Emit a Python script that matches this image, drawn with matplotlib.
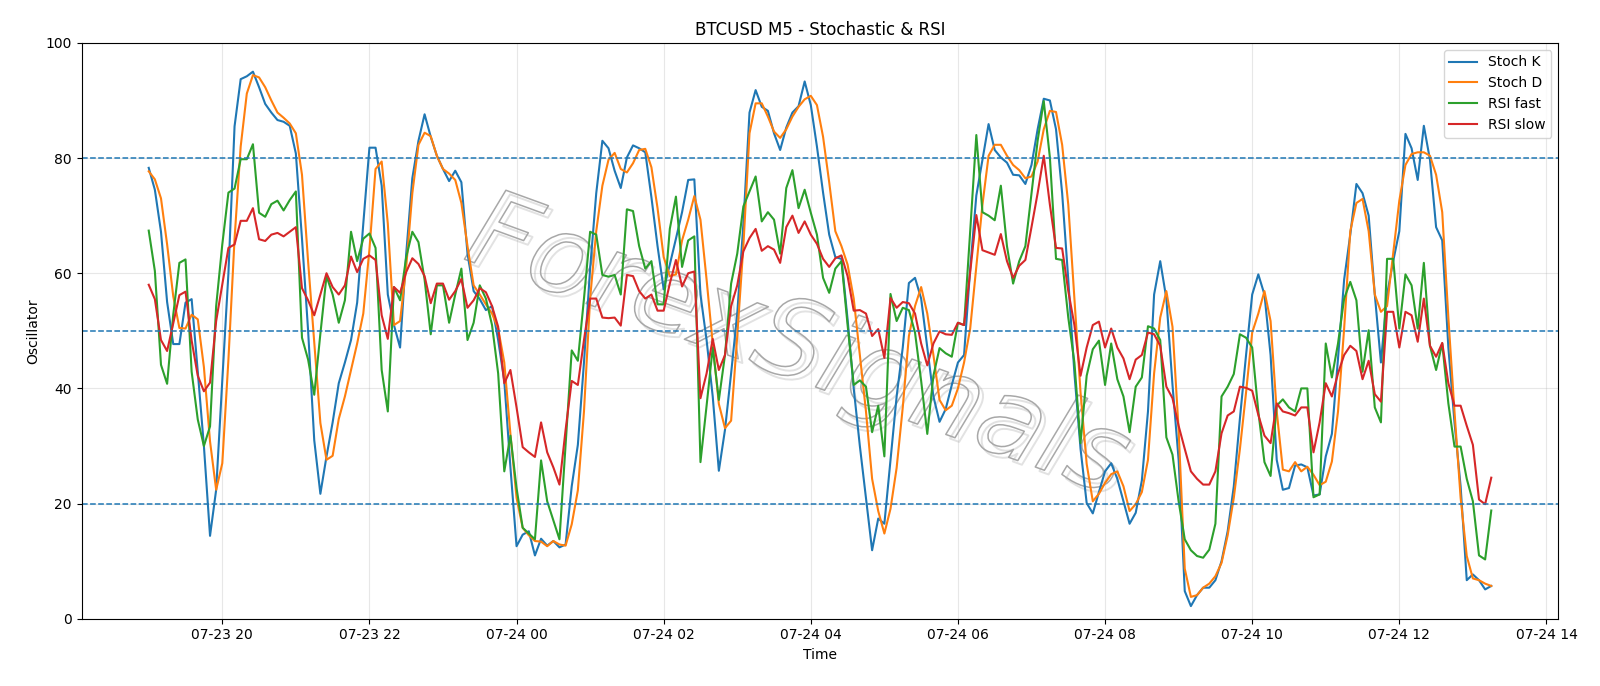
import matplotlib
matplotlib.use('Agg')
import matplotlib.pyplot as plt
import matplotlib.dates as mdates
import matplotlib.patheffects as pe
import pandas as pd

# 5 minute bars, 07-23 19:00 .. 07-24 13:15
times = pd.date_range('2024-07-23 19:00', periods=220, freq='5min')

stoch_k = [
    78.3, 74.5, 67.2, 55.0, 47.7, 47.7, 54.9, 55.5, 42.9, 30.0,
    14.4, 22.4, 41.4, 60.0, 85.5, 93.7, 94.2, 95.0, 92.3, 89.4,
    87.9, 86.6, 86.3, 85.6, 80.8, 66.0, 50.0, 31.0, 21.7, 28.2,
    34.1, 40.9, 44.5, 48.4, 54.9, 68.6, 81.8, 81.8, 75.2, 56.3,
    51.0, 47.1, 63.4, 76.5, 83.0, 87.6, 83.7, 80.4, 78.1, 76.0,
    77.8, 75.8, 63.4, 56.9, 55.5, 53.6, 54.3, 48.4, 41.3, 26.3,
    12.6, 14.6, 15.2, 11.0, 13.9, 12.7, 13.5, 12.4, 12.9, 23.0,
    30.2, 44.5, 60.8, 73.9, 83.0, 81.7, 77.8, 74.8, 80.1, 82.2,
    81.7, 81.0, 73.2, 64.7, 57.2, 61.5, 66.0, 70.6, 76.2, 76.3,
    56.3, 48.4, 38.6, 25.7, 32.8, 42.6, 53.0, 68.6, 87.9, 91.8,
    88.9, 88.2, 84.3, 81.4, 85.3, 87.9, 89.0, 93.3, 89.2, 82.0,
    74.0, 66.7, 62.8, 62.5, 52.0, 40.0, 30.0, 21.0, 11.9, 17.4,
    16.5, 27.6, 38.6, 47.1, 58.3, 59.2, 55.6, 47.1, 38.6, 34.2,
    36.4, 40.6, 44.5, 45.8, 60.8, 73.5, 79.7, 85.9, 81.4, 80.1,
    79.2, 77.1, 77.0, 75.5, 78.8, 85.0, 90.3, 90.0, 85.0, 73.9,
    58.9, 42.6, 29.5, 20.1, 18.3, 22.0, 25.6, 27.0, 24.3, 20.4,
    16.5, 18.4, 24.0, 36.0, 56.3, 62.1, 55.6, 40.6, 27.6, 4.8,
    2.2, 4.1, 5.4, 5.4, 6.7, 10.0, 15.2, 23.0, 34.8, 45.8,
    56.3, 59.8, 56.3, 45.8, 27.6, 22.4, 22.7, 26.6, 26.8, 26.3,
    21.4, 21.6, 28.2, 32.1, 45.2, 58.9, 66.7, 75.5, 73.9, 70.0,
    56.3, 44.5, 56.3, 62.1, 67.3, 84.2, 81.7, 76.2, 85.6, 79.7,
    68.0, 65.7, 47.1, 34.1, 23.0, 6.7, 7.7, 6.7, 5.1, 5.7,
]

stoch_d = [
    77.7, 76.3, 73.0, 65.0, 56.0, 50.5, 50.4, 52.8, 52.0, 43.7,
    30.8, 22.4, 27.0, 45.0, 66.0, 82.0, 91.2, 94.4, 94.0, 92.3,
    90.0, 87.9, 87.0, 86.0, 84.3, 77.1, 62.0, 48.0, 34.0, 27.6,
    28.3, 34.7, 38.6, 43.2, 47.8, 53.0, 64.1, 78.1, 79.4, 68.6,
    51.0, 51.7, 61.1, 73.9, 82.3, 84.4, 83.8, 80.4, 78.1, 77.3,
    76.2, 72.2, 64.7, 57.9, 56.3, 54.6, 53.0, 50.4, 44.5, 32.1,
    21.0, 15.8, 14.5, 13.5, 13.4, 12.6, 13.5, 12.9, 12.7, 16.4,
    22.3, 36.0, 55.6, 67.3, 75.2, 79.7, 80.9, 78.1, 77.5, 79.1,
    81.4, 81.6, 78.4, 71.3, 62.8, 59.5, 59.8, 65.7, 69.3, 73.4,
    69.3, 58.9, 47.8, 37.3, 33.1, 34.4, 49.1, 64.7, 84.3, 89.5,
    89.5, 87.2, 84.6, 83.5, 85.0, 87.2, 88.9, 90.2, 90.8, 89.2,
    83.7, 75.8, 67.3, 64.7, 61.5, 55.6, 45.8, 36.0, 24.3, 18.7,
    14.8, 19.1, 26.2, 36.7, 49.1, 54.3, 57.6, 53.0, 45.8, 38.0,
    36.2, 37.0, 40.0, 44.5, 50.4, 61.2, 71.9, 80.4, 82.3, 82.3,
    80.4, 78.8, 77.9, 76.5, 76.8, 79.4, 85.0, 88.2, 88.0, 82.3,
    71.9, 55.6, 39.3, 26.9, 20.4, 21.7, 23.6, 25.1, 25.6, 23.0,
    18.7, 19.9, 22.0, 27.6, 42.6, 52.3, 56.9, 50.7, 32.8, 8.7,
    3.8, 4.1, 5.4, 6.1, 7.4, 9.7, 14.5, 21.0, 29.5, 39.3,
    49.7, 53.0, 56.9, 51.7, 36.0, 25.9, 25.6, 27.2, 25.6, 26.4,
    25.0, 23.2, 23.8, 27.3, 36.0, 50.4, 67.3, 72.2, 72.9, 67.3,
    56.3, 53.3, 54.3, 63.4, 72.6, 78.8, 80.7, 81.0, 81.0, 80.4,
    77.1, 70.6, 52.3, 36.0, 21.0, 10.9, 7.0, 6.7, 6.1, 5.7,
]

rsi_fast = [
    67.4, 60.4, 44.1, 40.8, 52.8, 61.8, 62.4, 42.9, 34.6, 30.0,
    33.4, 54.3, 65.0, 74.0, 74.7, 79.8, 79.8, 82.4, 70.5, 69.8,
    72.0, 72.6, 70.9, 72.7, 74.2, 48.8, 45.0, 38.9, 49.5, 59.5,
    56.3, 51.4, 55.3, 67.2, 62.1, 66.0, 66.9, 64.4, 43.2, 36.0,
    57.6, 55.3, 62.8, 67.2, 65.4, 58.9, 49.4, 57.9, 57.9, 51.4,
    56.3, 60.8, 48.4, 51.4, 57.9, 55.6, 51.0, 42.6, 25.6, 31.8,
    22.7, 15.8, 14.8, 13.8, 27.5, 20.4, 17.1, 13.8, 30.2, 46.6,
    44.8, 55.6, 67.2, 66.7, 59.7, 59.4, 59.7, 56.3, 71.1, 70.8,
    64.7, 60.8, 62.1, 54.6, 54.6, 67.7, 73.3, 61.1, 65.7, 66.4,
    27.2, 37.0, 47.1, 38.0, 45.8, 58.2, 63.4, 71.6, 74.2, 76.8,
    69.0, 70.6, 69.3, 63.4, 74.8, 77.9, 71.3, 74.5, 70.5, 66.7,
    59.2, 56.6, 60.8, 62.1, 51.0, 40.6, 41.4, 40.3, 32.4, 37.0,
    28.2, 56.4, 51.7, 54.0, 53.6, 49.7, 41.3, 32.1, 42.2, 47.0,
    46.1, 45.5, 51.4, 51.0, 67.3, 84.0, 70.6, 70.0, 69.2, 75.2,
    64.7, 58.2, 62.1, 64.7, 73.9, 83.0, 89.9, 80.1, 62.5, 62.3,
    52.3, 44.5, 30.5, 42.2, 46.8, 48.3, 40.6, 47.8, 41.6, 38.6,
    32.4, 40.3, 41.9, 50.8, 50.4, 48.4, 31.5, 28.5, 20.4, 13.8,
    11.9, 10.9, 10.6, 12.0, 16.5, 38.6, 40.3, 42.5, 49.4, 48.8,
    47.1, 36.0, 27.2, 24.8, 37.0, 38.1, 36.7, 36.0, 40.0, 40.0,
    21.1, 21.6, 47.8, 41.9, 47.8, 55.6, 58.5, 55.3, 42.9, 50.1,
    36.7, 34.1, 62.5, 62.5, 50.4, 59.8, 57.9, 50.4, 61.8, 47.4,
    43.2, 47.8, 37.4, 29.9, 29.9, 24.3, 20.4, 11.0, 10.3, 18.8,
]

rsi_slow = [
    58.0, 55.5, 48.4, 46.5, 51.3, 56.2, 56.8, 48.3, 42.2, 39.5,
    41.0, 51.7, 58.1, 64.4, 65.0, 69.1, 69.1, 71.3, 65.9, 65.6,
    66.7, 67.0, 66.4, 67.2, 68.0, 57.4, 55.3, 52.7, 56.3, 60.0,
    57.6, 56.3, 57.9, 62.9, 60.2, 62.5, 63.1, 62.3, 52.7, 48.6,
    57.6, 56.6, 60.2, 62.6, 61.6, 59.5, 54.8, 58.2, 58.2, 55.4,
    56.9, 59.0, 54.0, 55.3, 57.4, 56.7, 54.3, 50.7, 40.9, 43.2,
    36.7, 29.8, 28.9, 28.1, 34.1, 28.9, 26.3, 23.3, 32.8, 41.3,
    40.6, 48.4, 55.6, 55.6, 52.3, 52.2, 52.3, 50.9, 59.7, 59.5,
    56.9, 55.6, 56.3, 53.5, 53.5, 58.2, 62.3, 57.7, 60.0, 60.3,
    38.3, 42.6, 48.6, 43.2, 45.8, 54.3, 57.9, 63.8, 66.1, 67.7,
    63.9, 64.7, 64.1, 61.8, 68.0, 70.0, 67.0, 69.0, 66.7, 65.1,
    62.5, 61.1, 62.6, 63.1, 59.5, 53.5, 53.6, 53.0, 49.1, 50.3,
    45.3, 55.7, 54.0, 55.0, 54.8, 53.0, 47.8, 44.0, 47.8, 49.9,
    49.4, 49.3, 51.4, 51.0, 60.2, 70.1, 64.0, 63.6, 63.2, 66.8,
    62.1, 59.2, 61.3, 62.3, 68.0, 73.9, 80.4, 71.9, 64.4, 64.3,
    56.9, 51.0, 42.2, 47.1, 51.0, 51.6, 47.1, 50.4, 47.1, 45.2,
    41.6, 45.0, 45.8, 49.7, 49.4, 47.4, 40.3, 38.3, 33.5, 29.5,
    25.6, 24.3, 23.3, 23.3, 25.6, 32.2, 35.3, 36.0, 40.3, 40.1,
    39.6, 35.4, 31.8, 30.5, 37.4, 36.0, 35.7, 35.3, 36.7, 36.7,
    28.9, 34.1, 40.9, 38.6, 42.6, 45.8, 47.4, 46.5, 41.6, 44.8,
    39.0, 37.7, 53.3, 53.3, 47.1, 53.3, 52.7, 48.1, 55.6, 47.4,
    45.5, 47.9, 40.9, 37.0, 37.0, 33.5, 30.2, 20.7, 19.9, 24.5,
]

levels = [80, 50, 20]


def main():
    fig = plt.figure(figsize=(16, 6.86), dpi=100)
    ax = fig.add_axes([0.051, 0.098, 0.923, 0.8395])

    # watermark behind the lines: thin hollow letters with a soft shadow
    ax.text(0.485, 0.47, 'ForexSignals', transform=ax.transAxes,
            fontsize=78, fontstyle='italic', color='none',
            rotation=-20, ha='center', va='center', zorder=0,
            path_effects=[
                pe.Stroke(offset=(3, -3), linewidth=1.4,
                          foreground='#e2e2e2'),
                pe.Stroke(linewidth=1.1, foreground='#a8a8a8')])

    ax.plot(times, stoch_k, label='Stoch K', color='C0', lw=1.5)
    ax.plot(times, stoch_d, label='Stoch D', color='C1', lw=1.5)
    ax.plot(times, rsi_fast, label='RSI fast', color='C2', lw=1.5)
    ax.plot(times, rsi_slow, label='RSI slow', color='C3', lw=1.5)

    for lvl in levels:
        ax.axhline(lvl, linestyle='--', color='C0', linewidth=1.1)

    ax.set_ylim(0, 100)
    ax.grid(True, alpha=0.3)
    ax.xaxis.set_major_locator(mdates.HourLocator(interval=2))
    ax.xaxis.set_major_formatter(mdates.DateFormatter('%m-%d %H'))
    ax.set_title('BTCUSD M5 - Stochastic & RSI')
    ax.set_xlabel('Time')
    ax.set_ylabel('Oscillator')
    ax.legend(loc='upper right')

    fig.savefig('out.png', dpi=100)


if __name__ == '__main__':
    main()
